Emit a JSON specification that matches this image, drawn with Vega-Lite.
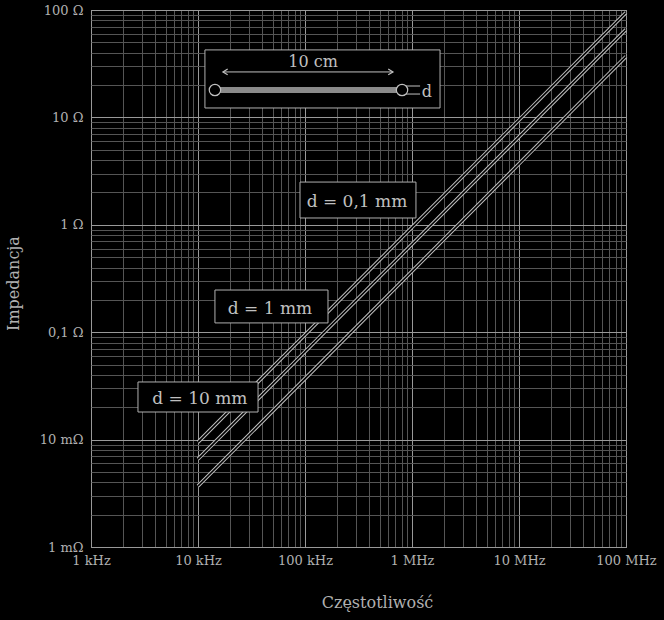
{
  "$schema": "https://vega.github.io/schema/vega-lite/v6.json",
  "width": 535,
  "height": 537,
  "autosize": "none",
  "padding": {"left": 91, "top": 10, "right": 38, "bottom": 73},
  "background": "black",
  "config": {
    "view": {"stroke": "#bbbbbb", "strokeWidth": 1},
    "font": "DejaVu Serif"
  },
  "datasets": {
    "curves": [
      {"f": 10000, "z": 0.009475, "d": "0,1 mm"},
      {"f": 100000, "z": 0.09475, "d": "0,1 mm"},
      {"f": 1000000, "z": 0.9475, "d": "0,1 mm"},
      {"f": 10000000, "z": 9.475, "d": "0,1 mm"},
      {"f": 100000000, "z": 94.75, "d": "0,1 mm"},
      {"f": 10000, "z": 0.006585, "d": "1 mm"},
      {"f": 100000, "z": 0.06585, "d": "1 mm"},
      {"f": 1000000, "z": 0.6585, "d": "1 mm"},
      {"f": 10000000, "z": 6.585, "d": "1 mm"},
      {"f": 100000000, "z": 65.85, "d": "1 mm"},
      {"f": 10000, "z": 0.003695, "d": "10 mm"},
      {"f": 100000, "z": 0.03695, "d": "10 mm"},
      {"f": 1000000, "z": 0.3695, "d": "10 mm"},
      {"f": 10000000, "z": 3.695, "d": "10 mm"},
      {"f": 100000000, "z": 36.95, "d": "10 mm"}
    ],
    "boxes": [
      {"f": 89800, "f2": 1089000, "z": 2.5, "z2": 1.157},
      {"f": 14400, "f2": 164000, "z": 0.247, "z2": 0.122},
      {"f": 2748, "f2": 36400, "z": 0.0344, "z2": 0.01807},
      {"f": 11610, "f2": 1828000, "z": 42.5, "z2": 12.24}
    ],
    "texts": [
      {"f": 306000, "z": 1.63, "t": "d = 0,1 mm", "s": 17},
      {"f": 47100, "z": 0.1644, "t": "d = 1 mm", "s": 17},
      {"f": 10400, "z": 0.0239, "t": "d = 10 mm", "s": 17},
      {"f": 118900, "z": 32.8, "t": "10 cm", "s": 16},
      {"f": 1380000, "z": 17.2, "t": "d", "s": 16}
    ],
    "segs": [
      {"f": 17100, "f2": 664000, "z": 26.5, "k": "arrow"},
      {"f": 861000, "f2": 1190000, "z": 19.6, "k": "dim"},
      {"f": 861000, "f2": 1190000, "z": 16.5, "k": "dim"},
      {"f": 14400, "f2": 807000, "z": 18.0, "k": "wire"}
    ],
    "heads": [
      {"f": 17100, "z": 26.5, "k": "left"},
      {"f": 664000, "z": 26.5, "k": "right"}
    ],
    "ends": [
      {"f": 14400, "z": 18.0},
      {"f": 807000, "z": 18.0}
    ]
  },
  "encoding": {
    "x": {
      "field": "f", "type": "quantitative",
      "scale": {"type": "log", "domain": [1000, 100000000], "nice": false},
      "axis": {
        "values": [1000,2000,3000,4000,5000,6000,7000,8000,9000,10000,20000,30000,40000,50000,60000,70000,80000,90000,100000,200000,300000,400000,500000,600000,700000,800000,900000,1000000,2000000,3000000,4000000,5000000,6000000,7000000,8000000,9000000,10000000,20000000,30000000,40000000,50000000,60000000,70000000,80000000,90000000,100000000],
        "labelExpr": "datum.value==1000?'1 kHz':datum.value==10000?'10 kHz':datum.value==100000?'100 kHz':datum.value==1000000?'1 MHz':datum.value==10000000?'10 MHz':datum.value==100000000?'100 MHz':''",
        "labelOverlap": false,
        "labelFlush": false,
        "labelFontSize": 13,
        "labelColor": "#b0b0b0",
        "labelPadding": 7,
        "ticks": false,
        "domain": false,
        "grid": true,
        "gridColor": {"condition": {"test": "indexof([1000,10000,100000,1000000,10000000,100000000], datum.value) >= 0", "value": "#999999"}, "value": "#555555"},
        "gridWidth": 1,
        "title": "Częstotliwość",
        "titleFontSize": 16,
        "titleFontWeight": "normal",
        "titleColor": "#b0b0b0",
        "titleX": 286,
        "titleY": 47
      }
    },
    "y": {
      "field": "z", "type": "quantitative",
      "scale": {"type": "log", "domain": [0.001, 100], "nice": false},
      "axis": {
        "values": [0.001,0.002,0.003,0.004,0.005,0.006,0.007,0.008,0.009,0.01,0.02,0.03,0.04,0.05,0.06,0.07,0.08,0.09,0.1,0.2,0.3,0.4,0.5,0.6,0.7,0.8,0.9,1,2,3,4,5,6,7,8,9,10,20,30,40,50,60,70,80,90,100],
        "labelExpr": "datum.value==0.001?'1 mΩ':datum.value==0.01?'10 mΩ':datum.value==0.1?'0,1 Ω':datum.value==1?'1 Ω':datum.value==10?'10 Ω':datum.value==100?'100 Ω':''",
        "labelOverlap": false,
        "labelFlush": false,
        "labelFontSize": 13,
        "labelColor": "#b0b0b0",
        "labelPadding": 8,
        "ticks": false,
        "domain": false,
        "grid": true,
        "gridColor": {"condition": {"test": "indexof([0.001,0.01,0.1,1,10,100], datum.value) >= 0", "value": "#999999"}, "value": "#555555"},
        "gridWidth": 1,
        "title": "Impedancja",
        "titleFontSize": 16,
        "titleFontWeight": "normal",
        "titleColor": "#b0b0b0",
        "titleX": -70,
        "titleY": 273
      }
    }
  },
  "layer": [
    {
      "data": {"name": "curves"},
      "mark": {"type": "line", "color": "#c0c0c0", "strokeWidth": 3.6},
      "encoding": {
        "detail": {"field": "d", "type": "nominal"}
      }
    },
    {
      "data": {"name": "curves"},
      "mark": {"type": "line", "color": "black", "strokeWidth": 1.6},
      "encoding": {
        "detail": {"field": "d", "type": "nominal"}
      }
    },
    {
      "data": {"name": "boxes"},
      "mark": {"type": "rect", "fill": "black", "stroke": "#b0b0b0", "strokeWidth": 1},
      "encoding": {
        "x2": {"field": "f2"},
        "y2": {"field": "z2"}
      }
    },
    {
      "data": {"name": "segs"},
      "transform": [{"filter": "datum.k == 'wire'"}],
      "mark": {"type": "rule", "color": "#8a8a8a", "strokeWidth": 6},
      "encoding": {
        "x2": {"field": "f2"}
      }
    },
    {
      "data": {"name": "segs"},
      "transform": [{"filter": "datum.k != 'wire'"}],
      "mark": {"type": "rule", "color": "#c0c0c0", "strokeWidth": 1},
      "encoding": {
        "x2": {"field": "f2"}
      }
    },
    {
      "data": {"name": "ends"},
      "mark": {"type": "point", "shape": "circle", "size": 130, "filled": true, "fill": "black", "stroke": "#c0c0c0", "strokeWidth": 1.2, "opacity": 1},
      "encoding": {}
    },
    {
      "data": {"name": "heads"},
      "transform": [{"filter": "datum.k == 'right'"}],
      "mark": {"type": "point", "shape": "M-1,-0.6L0,0L-1,0.6", "size": 90, "filled": false, "stroke": "#c0c0c0", "strokeWidth": 1.2, "opacity": 1},
      "encoding": {}
    },
    {
      "data": {"name": "heads"},
      "transform": [{"filter": "datum.k == 'left'"}],
      "mark": {"type": "point", "shape": "M1,-0.6L0,0L1,0.6", "size": 90, "filled": false, "stroke": "#c0c0c0", "strokeWidth": 1.2, "opacity": 1},
      "encoding": {}
    },
    {
      "data": {"name": "texts"},
      "mark": {"type": "text", "color": "#c0c0c0", "font": "DejaVu Serif", "align": "center", "baseline": "middle"},
      "encoding": {
        "text": {"field": "t"},
        "size": {"field": "s", "type": "quantitative", "scale": null}
      }
    }
  ]
}
